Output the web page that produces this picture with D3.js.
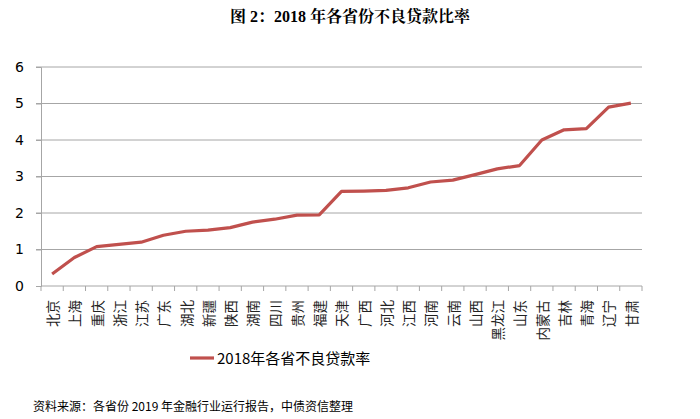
<!DOCTYPE html>
<html><head><meta charset="utf-8">
<script src="https://cdn.jsdelivr.net/npm/d3@7"></script>
<style>body{margin:0;background:#fff}</style>
</head><body>
<svg id="c" width="700" height="419"></svg>
<script>
const categories = ["北京","上海","重庆","浙江","江苏","广东","湖北","新疆","陕西","湖南","四川","贵州","福建","天津","广西","河北","江西","河南","云南","山西","黑龙江","山东","内蒙古","吉林","青海","辽宁","甘肃"];
const values = [0.33,0.78,1.08,1.14,1.20,1.39,1.50,1.53,1.60,1.75,1.83,1.94,1.95,2.59,2.60,2.62,2.69,2.85,2.90,3.05,3.21,3.30,4.00,4.28,4.31,4.90,5.01];
const yTicks = [0,1,2,3,4,5,6];
const seriesName = "2018年各省不良贷款率";
const title = "图 2：2018 年各省份不良贷款比率";
const source = "资料来源：各省份 2019 年金融行业运行报告，中债资信整理";

const svg = d3.select("#c");
const m = {l:41, r:642, t:67, b:286};
const x = d3.scaleBand().domain(categories).range([m.l, m.r]);
const y = d3.scaleLinear().domain([0,6]).range([m.b, m.t]);
const cjk = "'Noto Sans CJK SC', 'Noto Sans', sans-serif";

svg.append("text").attr("x",350).attr("y",22).attr("text-anchor","middle")
  .attr("font-family","'Liberation Serif','Noto Serif CJK SC','Noto Sans CJK SC',serif").attr("font-weight","bold").attr("font-size",16)
  .text(title);

// gridlines
svg.append("g").selectAll("line").data(yTicks.filter(d=>d>0)).join("line")
  .attr("x1",m.l-5).attr("x2",m.r).attr("y1",d=>y(d)).attr("y2",d=>y(d))
  .attr("stroke","#a6a6a6").attr("stroke-width",1);

// y axis
const ya = svg.append("g").attr("transform",`translate(${m.l},0)`)
  .call(d3.axisLeft(y).tickValues(yTicks).tickFormat(d3.format("d")).tickSize(5).tickPadding(12));
ya.select(".domain").attr("stroke","#a6a6a6");
ya.selectAll(".tick line").attr("stroke","#a6a6a6");
ya.selectAll(".tick text").attr("font-family","'DejaVu Sans',sans-serif").attr("font-size",14).attr("fill","#000");

// x axis
const xa = svg.append("g").attr("transform",`translate(0,${m.b})`);
xa.append("line").attr("x1",m.l).attr("x2",m.r).attr("stroke","#a6a6a6");
const bounds = d3.range(categories.length+1).map(i=>m.l + i*x.step());
xa.selectAll("line.t").data(bounds).join("line").attr("class","t")
  .attr("x1",d=>d).attr("x2",d=>d).attr("y1",0).attr("y2",5).attr("stroke","#a6a6a6");
xa.selectAll("text").data(categories).join("text")
  .attr("font-family",cjk).attr("font-size",13.5).attr("fill","#222").attr("text-anchor","end")
  .attr("transform",d=>`translate(${x(d)+x.bandwidth()/2+1},14) rotate(-90)`)
  .attr("dy","0.36em")
  .text(d=>d);

// line
svg.append("path").datum(values)
  .attr("fill","none").attr("stroke","#c0504d").attr("stroke-width",3.2).attr("stroke-linejoin","round")
  .attr("d", d3.line().x((d,i)=>x(categories[i])+x.bandwidth()/2).y(d=>y(d)));

// legend
svg.append("line").attr("x1",190).attr("x2",214).attr("y1",358).attr("y2",358)
  .attr("stroke","#c0504d").attr("stroke-width",3.2);
svg.append("text").attr("x",217).attr("y",364).attr("font-family",cjk).attr("font-size",15).attr("fill","#000").text(seriesName);

// source
svg.append("text").attr("x",33).attr("y",411).attr("font-family",cjk).attr("font-size",12).attr("fill","#000").text(source);
</script>
</body></html>
